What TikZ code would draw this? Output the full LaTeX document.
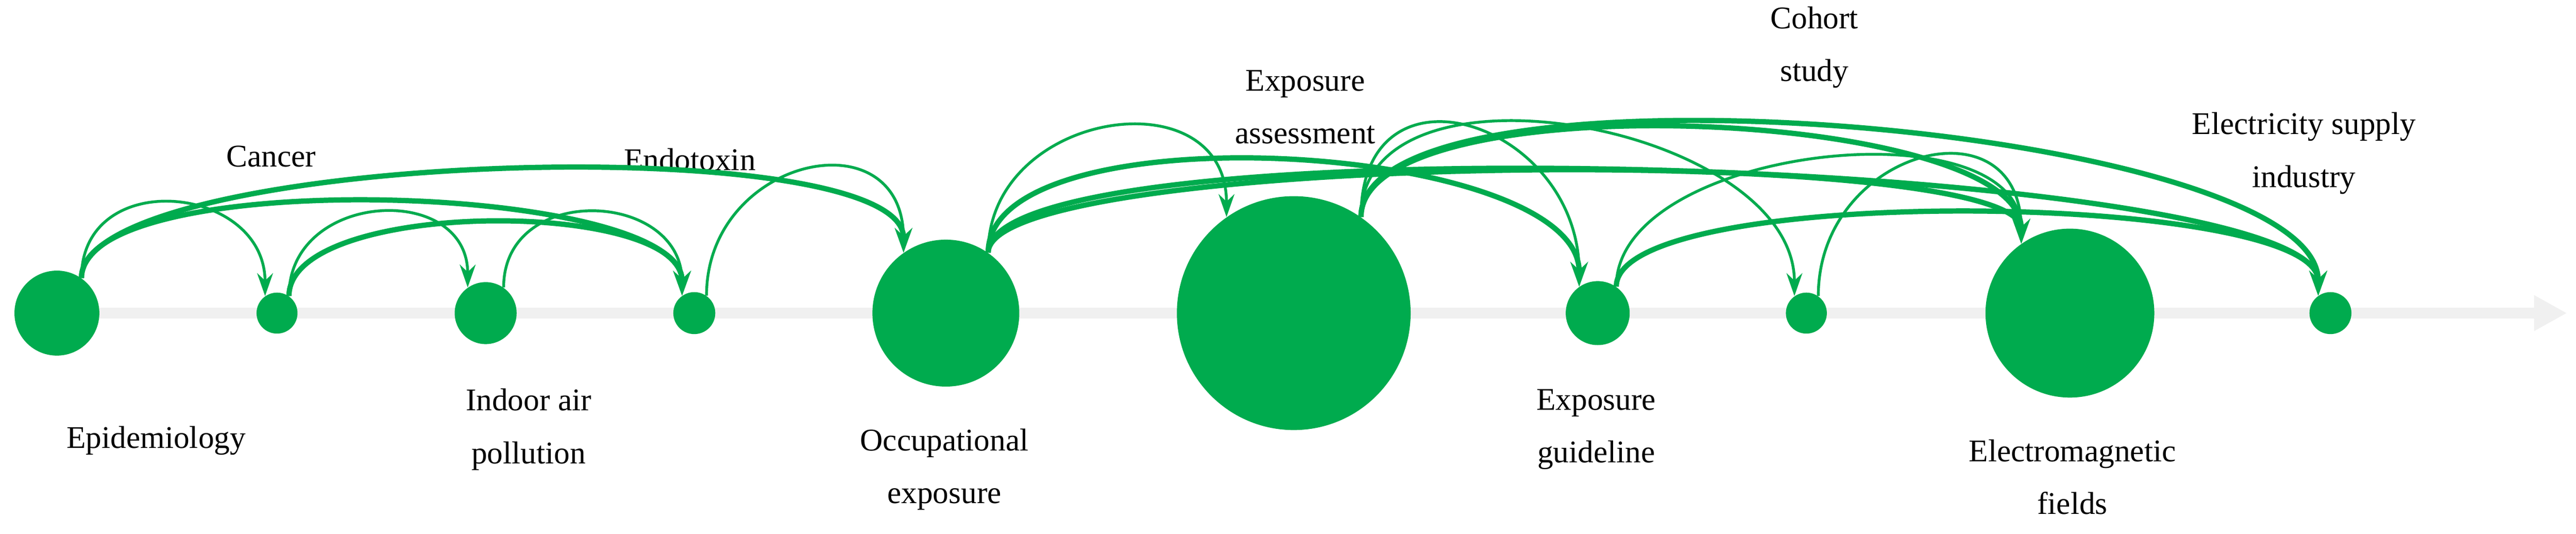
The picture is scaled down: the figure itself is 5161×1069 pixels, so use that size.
\documentclass[tikz,border=0pt]{standalone}
\usepackage{fontspec}
\setmainfont{Liberation Serif}
\usetikzlibrary{arrows.meta}
\definecolor{gr}{RGB}{0,171,78}
\definecolor{axisgrey}{RGB}{240,240,240}
\begin{document}
\begin{tikzpicture}[x=0.01cm,y=-0.01cm,
  topic/.style={circle,fill=gr,inner sep=0pt,minimum size=#1*0.02cm},
  lab/.style={align=center,font=\fontsize{18}{30}\selectfont},
  thin/.style={draw=gr,line width=1.6pt,-{Stealth[length=13pt,width=9pt]}},
  thick/.style={draw=gr,line width=3pt,-{Stealth[length=14pt,width=10pt]}}]
\useasboundingbox (0,0) rectangle (5161,1069);
\coordinate (axs) at (30,627);
\coordinate (axe) at (5143,627);
\draw[axisgrey,line width=22*0.01cm,-{Triangle[length=66*0.01cm,width=67*0.01cm]}] (axs) -- (axe);
\node[topic=85] (epi) at (114,627) {};
\node[topic=41] (can) at (555,627) {};
\node[topic=62] (ind) at (973,627) {};
\node[topic=42] (end) at (1391,627) {};
\node[topic=147] (occ) at (1895,627) {};
\node[topic=234] (exa) at (2592,627) {};
\node[topic=64] (gui) at (3201,627) {};
\node[topic=41] (coh) at (3619,627) {};
\node[topic=169] (emf) at (4147,627) {};
\node[topic=42] (ele) at (4669,627) {};
\node[lab] (tepi) at (313,882) {Epidemiology};
\node[lab] (tcan) at (543,313) {Cancer};
\node[lab] (tend) at (1382,319) {Endotoxin};
\node[lab] (tind) at (1059,860) {Indoor air\\pollution};
\node[lab] (tocc) at (1892,940) {Occupational\\exposure};
\node[lab] (texa) at (2615,214) {Exposure\\assessment};
\node[lab] (tgui) at (3198,860) {Exposure\\guideline};
\node[lab] (tcoh) at (3635,95) {Cohort\\study};
\node[lab] (temf) at (4152,955) {Electromagnetic\\fields};
\node[lab] (tele) at (4616,307) {Electricity supply\\industry};
\newcommand{\arcto}[4]{\draw[#4] (#1.55) .. controls +(0,-#3) and +(0,-#3) .. (#2.125);}
\arcto{epi}{can}{224}{thin}
\arcto{epi}{end}{227}{thick}
\arcto{epi}{occ}{253}{thick}
\arcto{can}{ind}{211}{thin}
\arcto{can}{end}{195}{thick}
\arcto{ind}{end}{211}{thin}
\arcto{end}{occ}{277}{thin}
\arcto{occ}{exa}{285}{thin}
\arcto{occ}{gui}{291}{thick}
\arcto{occ}{emf}{203}{thick}
\arcto{occ}{ele}{273}{thick}
\arcto{exa}{gui}{331}{thin}
\arcto{exa}{coh}{343}{thin}
\arcto{exa}{emf}{273}{thick}
\arcto{exa}{ele}{343}{thick}
\arcto{gui}{emf}{282}{thin}
\arcto{gui}{ele}{209}{thick}
\arcto{coh}{emf}{294}{thin}
\end{tikzpicture}
\end{document}
